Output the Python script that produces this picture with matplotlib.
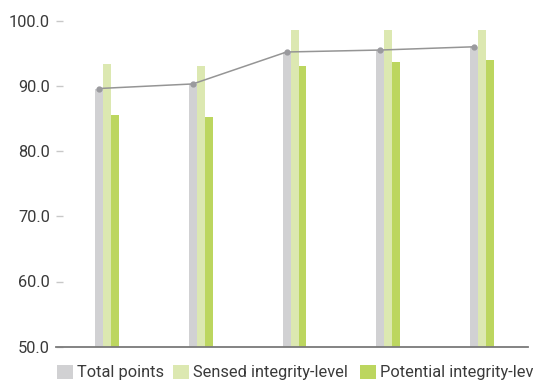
import matplotlib
matplotlib.use("Agg")
import matplotlib.pyplot as plt
import numpy as np
from matplotlib.patches import Patch

plt.rcParams['font.family'] = ['Roboto', 'DejaVu Sans']

groups = ["1", "2", "3", "4", "5"]
total_points = [89.6, 90.3, 95.2, 95.5, 96.0]
sensed_level = [93.3, 93.1, 98.6, 98.6, 98.5]
potential_level = [85.5, 85.2, 93.0, 93.7, 94.0]
series_names = ["Total points", "Sensed integrity-level", "Potential integrity-level"]
yticks = [50.0, 60.0, 70.0, 80.0, 90.0, 100.0]

c_gray = "#d1d1d3"
c_light = "#dce8b1"
c_green = "#bcd65f"
colors = [c_gray, c_light, c_green]

W, H = 533, 381
fig = plt.figure(figsize=(W / 100, H / 100), dpi=100)
ax = fig.add_axes([56 / W, 1 - 346.7 / H, (528 - 56) / W, (346.7 - 20.7) / H])

x = np.arange(len(groups))
bw = 0.085
ax.bar(x - bw, total_points, bw, color=c_gray)
ax.bar(x, sensed_level, bw, color=c_light)
ax.bar(x + bw, potential_level, bw, color=c_green)
ax.plot(x - bw, total_points, color="#959595", lw=1.1, marker="o", ms=3.5,
        mfc="#9a9a9e", mec="#9a9a9e", zorder=5)

ax.set_ylim(50, 100)
ax.set_xlim(-0.544, 4.49)
ax.set_yticks(yticks)
ax.set_yticklabels([f"{v:.1f}" for v in yticks], fontsize=11.8, color="#3a3a3a")
ax.tick_params(axis='y', direction='in', length=5, color="#c8c8c8", width=1, pad=4.5)
ax.set_xticks([])
for s in ["top", "right", "left"]:
    ax.spines[s].set_visible(False)
ax.spines["bottom"].set_color("#7a7a7a")
ax.spines["bottom"].set_linewidth(1.3)

# legend entries placed at the reference's positions
legend_x = [57, 173, 360]
for name, col, lx in zip(series_names, colors, legend_x):
    leg = fig.legend([Patch(facecolor=col, edgecolor='none')], [name],
                     loc="lower left", bbox_to_anchor=(lx / W, 0.5 / H),
                     frameon=False, fontsize=11.8, handlelength=0.95, handleheight=0.95,
                     handletextpad=0.3, borderpad=0, borderaxespad=0,
                     labelcolor="#3a3a3a")

fig.savefig("out.png", dpi=100)
